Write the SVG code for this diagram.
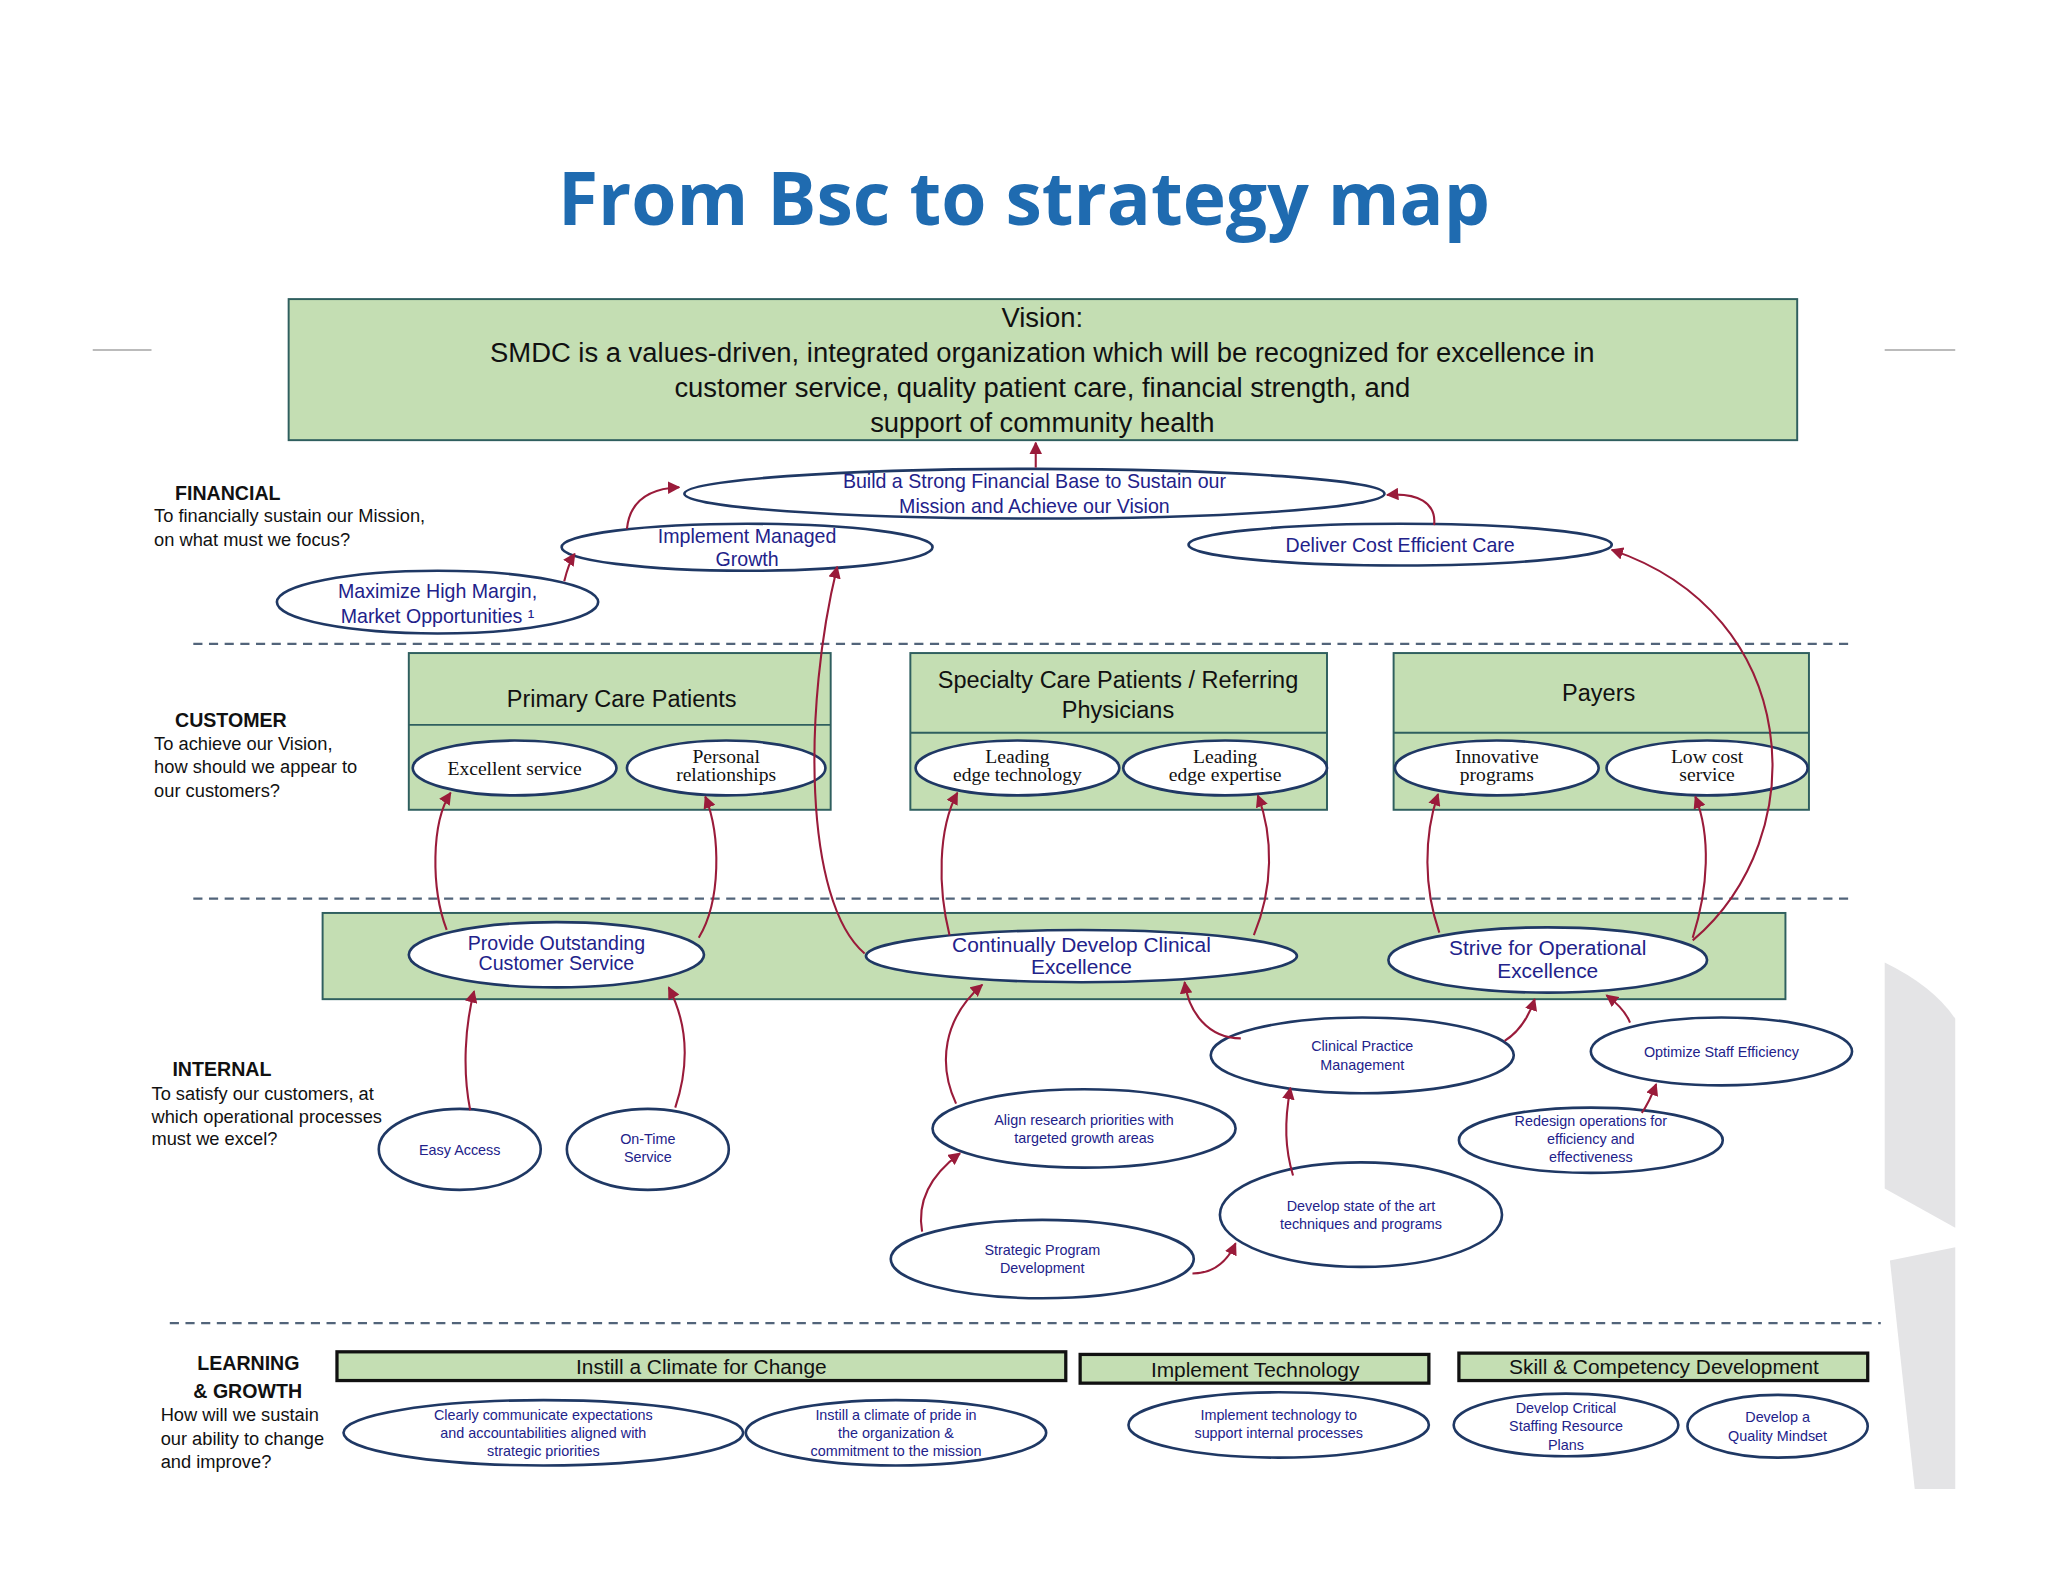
<svg xmlns="http://www.w3.org/2000/svg" width="2048" height="1582" viewBox="0 0 2048 1582">
<defs>
<style>
.e{fill:#fff;stroke:#1f3864;stroke-width:2}
.g{fill:#c4deb3;stroke:#2f5f5f;stroke-width:1.5}
.gb{fill:#c4deb3;stroke:#111;stroke-width:2.5}
.t{font-family:"Liberation Sans",Arial,sans-serif;text-anchor:middle}
.nb{fill:#22228a}
.s{font-size:11px}
.m{font-size:15px}
.sr{font-family:"Liberation Serif","Times New Roman",serif;text-anchor:middle;font-size:15px;fill:#111}
.lb{font-family:"Liberation Sans",Arial,sans-serif;font-size:14px;fill:#111}
.hd{font-family:"Liberation Sans",Arial,sans-serif;font-size:15px;font-weight:bold;fill:#111}
.c{fill:none;stroke:#9a1b3a;stroke-width:1.6;marker-end:url(#a)}
.d{stroke:#52647a;stroke-width:1.8;stroke-dasharray:7 5}
</style>
<marker id="a" viewBox="0 0 10 10" refX="9" refY="5" markerWidth="6" markerHeight="6" orient="auto"><path d="M0 0L10 5L0 10z" fill="#9a1b3a"/></marker>
</defs>
<rect width="2048" height="1582" fill="#fff"/>
<g transform="scale(1.3061)">
<text x="784" y="172" font-family="Open Sans,Liberation Sans,sans-serif" font-weight="bold" font-size="56" fill="#1f6bb0" text-anchor="middle">From Bsc to strategy map</text>
<line x1="71" y1="268" x2="116" y2="268" stroke="#bbb" stroke-width="1.5"/>
<line x1="1443" y1="268" x2="1497" y2="268" stroke="#bbb" stroke-width="1.5"/>
<path d="M1443 737 Q1480 755 1497 780 L1497 940 L1443 910 Z" fill="#e4e4e6"/>
<path d="M1447 965 L1497 955 L1497 1140 L1466 1140 Z" fill="#e4e4e6"/>

<g id="vision"><rect class="g" x="221" y="229" width="1155" height="108"/>
<text class="t" font-size="21" fill="#111"><tspan x="798" y="250">Vision:</tspan><tspan x="798" y="277">SMDC is a values-driven, integrated organization which will be recognized for excellence in</tspan><tspan x="798" y="304">customer service, quality patient care, financial strength, and</tspan><tspan x="798" y="331">support of community health</tspan></text></g>

<g id="labels">
<text class="hd" x="134" y="383">FINANCIAL</text>
<text class="lb"><tspan x="118" y="400">To financially sustain our Mission,</tspan><tspan x="118" y="418">on what must we focus?</tspan></text>
<text class="hd" x="134" y="557">CUSTOMER</text>
<text class="lb"><tspan x="118" y="574">To achieve our Vision,</tspan><tspan x="118" y="592">how should we appear to</tspan><tspan x="118" y="610">our customers?</tspan></text>
<text class="hd" x="132" y="824">INTERNAL</text>
<text class="lb"><tspan x="116" y="842">To satisfy our customers, at</tspan><tspan x="116" y="860">which operational processes</tspan><tspan x="116" y="877">must we excel?</tspan></text>
<text class="hd"><tspan x="151" y="1049">LEARNING</tspan><tspan x="148" y="1070">&amp; GROWTH</tspan></text>
<text class="lb"><tspan x="123" y="1088">How will we sustain</tspan><tspan x="123" y="1106">our ability to change</tspan><tspan x="123" y="1124">and improve?</tspan></text>
</g>
<g id="dividers">
<line class="d" x1="148" y1="493" x2="1420" y2="493"/>
<line class="d" x1="148" y1="688" x2="1420" y2="688"/>
<line class="d" x1="130" y1="1013" x2="1440" y2="1013"/>
</g>

<g id="fin-build"><ellipse class="e" cx="792" cy="378" rx="268" ry="19"/><text class="t m nb"><tspan x="792" y="374">Build a Strong Financial Base to Sustain our</tspan><tspan x="792" y="393">Mission and Achieve our Vision</tspan></text></g>
<g id="fin-growth"><ellipse class="e" cx="572" cy="419" rx="142" ry="18"/><text class="t m nb"><tspan x="572" y="416">Implement Managed</tspan><tspan x="572" y="433">Growth</tspan></text></g>
<g id="fin-cost"><ellipse class="e" cx="1072" cy="417" rx="162" ry="16"/><text class="t m nb" x="1072" y="423">Deliver Cost Efficient Care</text></g>
<g id="fin-margin"><ellipse class="e" cx="335" cy="461" rx="123" ry="24"/><text class="t m nb"><tspan x="335" y="458">Maximize High Margin,</tspan><tspan x="335" y="477">Market Opportunities ¹</tspan></text></g>

<g id="cust-primary"><rect class="g" x="313" y="500" width="323" height="120"/><line x1="313" y1="555" x2="636" y2="555" stroke="#2f5f5f" stroke-width="1.5"/>
<text class="t" font-size="18" fill="#111" x="476" y="541">Primary Care Patients</text>
<ellipse class="e" cx="394" cy="588" rx="78" ry="21"/><text class="sr" x="394" y="593">Excellent service</text>
<ellipse class="e" cx="556" cy="588" rx="76" ry="21"/><text class="sr"><tspan x="556" y="584">Personal</tspan><tspan x="556" y="598">relationships</tspan></text></g>
<g id="cust-specialty"><rect class="g" x="697" y="500" width="319" height="120"/><line x1="697" y1="561" x2="1016" y2="561" stroke="#2f5f5f" stroke-width="1.5"/>
<text class="t" font-size="18" fill="#111"><tspan x="856" y="527">Specialty Care Patients / Referring</tspan><tspan x="856" y="550">Physicians</tspan></text>
<ellipse class="e" cx="779" cy="588" rx="78" ry="21"/><text class="sr"><tspan x="779" y="584">Leading</tspan><tspan x="779" y="598">edge technology</tspan></text>
<ellipse class="e" cx="938" cy="588" rx="78" ry="21"/><text class="sr"><tspan x="938" y="584">Leading</tspan><tspan x="938" y="598">edge expertise</tspan></text></g>
<g id="cust-payers"><rect class="g" x="1067" y="500" width="318" height="120"/><line x1="1067" y1="561" x2="1385" y2="561" stroke="#2f5f5f" stroke-width="1.5"/>
<text class="t" font-size="18" fill="#111" x="1224" y="537">Payers</text>
<ellipse class="e" cx="1146" cy="588" rx="78" ry="21"/><text class="sr"><tspan x="1146" y="584">Innovative</tspan><tspan x="1146" y="598">programs</tspan></text>
<ellipse class="e" cx="1307" cy="588" rx="77" ry="21"/><text class="sr"><tspan x="1307" y="584">Low cost</tspan><tspan x="1307" y="598">service</tspan></text></g>

<g id="internal-band"><rect class="g" x="247" y="699" width="1120" height="66"/></g>
<g id="int-provide"><ellipse class="e" cx="426" cy="731" rx="113" ry="25"/><text class="t m nb"><tspan x="426" y="727">Provide Outstanding</tspan><tspan x="426" y="743">Customer Service</tspan></text></g>
<g id="int-clinical"><ellipse class="e" cx="828" cy="732" rx="165" ry="20"/><text class="t nb" font-size="16"><tspan x="828" y="729">Continually Develop Clinical</tspan><tspan x="828" y="746">Excellence</tspan></text></g>
<g id="int-ops"><ellipse class="e" cx="1185" cy="735" rx="122" ry="25"/><text class="t nb" font-size="16"><tspan x="1185" y="731">Strive for Operational</tspan><tspan x="1185" y="749">Excellence</tspan></text></g>

<g id="easy"><ellipse class="e" cx="352" cy="880" rx="62" ry="31"/><text class="t s nb" x="352" y="884">Easy Access</text></g>
<g id="ontime"><ellipse class="e" cx="496" cy="880" rx="62" ry="31"/><text class="t s nb"><tspan x="496" y="876">On-Time</tspan><tspan x="496" y="890">Service</tspan></text></g>
<g id="align"><ellipse class="e" cx="830" cy="864" rx="116" ry="30"/><text class="t s nb"><tspan x="830" y="861">Align research priorities with</tspan><tspan x="830" y="875">targeted growth areas</tspan></text></g>
<g id="strategic"><ellipse class="e" cx="798" cy="964" rx="116" ry="30"/><text class="t s nb"><tspan x="798" y="961">Strategic Program</tspan><tspan x="798" y="975">Development</tspan></text></g>
<g id="cpm"><ellipse class="e" cx="1043" cy="808" rx="116" ry="29"/><text class="t s nb"><tspan x="1043" y="805">Clinical Practice</tspan><tspan x="1043" y="819">Management</tspan></text></g>
<g id="develop"><ellipse class="e" cx="1042" cy="930" rx="108" ry="40"/><text class="t s nb"><tspan x="1042" y="927">Develop state of the art</tspan><tspan x="1042" y="941">techniques and programs</tspan></text></g>
<g id="optimize"><ellipse class="e" cx="1318" cy="805" rx="100" ry="26"/><text class="t s nb" x="1318" y="809">Optimize Staff Efficiency</text></g>
<g id="redesign"><ellipse class="e" cx="1218" cy="873" rx="101" ry="25"/><text class="t s nb"><tspan x="1218" y="862">Redesign operations for</tspan><tspan x="1218" y="876">efficiency and</tspan><tspan x="1218" y="890">effectiveness</tspan></text></g>

<g id="lg-change"><rect class="gb" x="258" y="1035" width="558" height="22"/><text class="t" font-size="16" fill="#111" x="537" y="1052">Instill a Climate for Change</text>
<ellipse class="e" cx="416" cy="1097" rx="153" ry="25"/><text class="t s nb"><tspan x="416" y="1087">Clearly communicate expectations</tspan><tspan x="416" y="1101">and accountabilities aligned with</tspan><tspan x="416" y="1115">strategic priorities</tspan></text>
<ellipse class="e" cx="686" cy="1097" rx="115" ry="25"/><text class="t s nb"><tspan x="686" y="1087">Instill a climate of pride in</tspan><tspan x="686" y="1101">the organization &amp;</tspan><tspan x="686" y="1115">commitment to the mission</tspan></text></g>
<g id="lg-tech"><rect class="gb" x="827" y="1037" width="267" height="22"/><text class="t" font-size="16" fill="#111" x="961" y="1054">Implement Technology</text>
<ellipse class="e" cx="979" cy="1091" rx="115" ry="25"/><text class="t s nb"><tspan x="979" y="1087">Implement technology to</tspan><tspan x="979" y="1101">support internal processes</tspan></text></g>
<g id="lg-skill"><rect class="gb" x="1117" y="1036" width="313" height="21"/><text class="t" font-size="16" fill="#111" x="1274" y="1052">Skill &amp; Competency Development</text>
<ellipse class="e" cx="1199" cy="1091" rx="86" ry="24"/><text class="t s nb"><tspan x="1199" y="1082">Develop Critical</tspan><tspan x="1199" y="1096">Staffing Resource</tspan><tspan x="1199" y="1110">Plans</tspan></text>
<ellipse class="e" cx="1361" cy="1092" rx="69" ry="24"/><text class="t s nb"><tspan x="1361" y="1089">Develop a</tspan><tspan x="1361" y="1103">Quality Mindset</tspan></text></g>

<g id="connectors">
<path class="c" d="M793 358 L793 339"/>
<path class="c" d="M480 405 C482 385 495 374 520 373"/>
<path class="c" d="M1098 402 C1100 385 1085 377 1062 379"/>
<path class="c" d="M432 445 C434 437 436 430 440 424"/>
<path class="c" d="M662 730 C615 690 615 540 641 434"/>
<path class="c" d="M1296 720 C1390 640 1380 470 1234 421"/>
<path class="c" d="M342 712 C330 680 330 630 345 607"/>
<path class="c" d="M535 718 C552 690 552 640 540 610"/>
<path class="c" d="M727 716 C718 680 718 635 733 607"/>
<path class="c" d="M960 716 C975 680 975 640 963 609"/>
<path class="c" d="M1102 714 C1090 680 1090 640 1101 608"/>
<path class="c" d="M1296 718 C1308 680 1310 640 1298 610"/>
<path class="c" d="M360 850 C354 820 356 785 363 759"/>
<path class="c" d="M517 848 C528 815 527 785 512 756"/>
<path class="c" d="M732 845 C718 815 722 780 752 754"/>
<path class="c" d="M706 943 C702 920 712 900 735 883"/>
<path class="c" d="M913 975 C930 975 940 965 946 952"/>
<path class="c" d="M990 900 C984 880 983 860 988 833"/>
<path class="c" d="M950 795 C925 795 910 775 907 752"/>
<path class="c" d="M1152 797 C1163 790 1170 780 1175 765"/>
<path class="c" d="M1248 783 C1245 775 1238 768 1230 762"/>
<path class="c" d="M1257 852 C1262 845 1265 838 1268 830"/>
</g>
</g>
</svg>
